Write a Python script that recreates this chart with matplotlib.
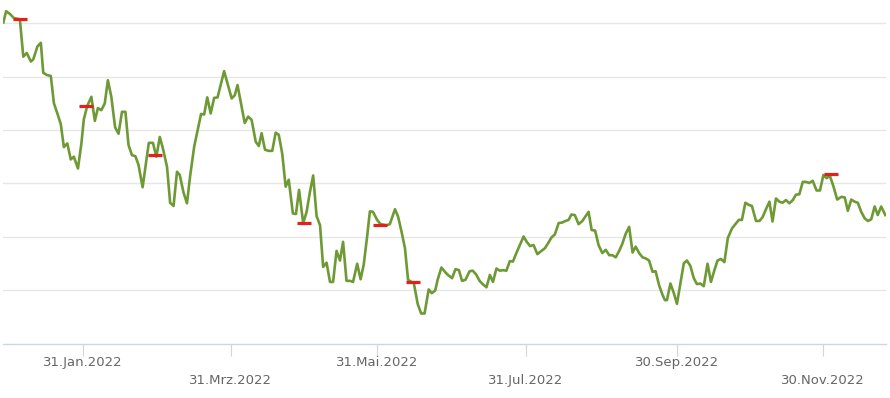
import matplotlib.pyplot as plt

# Handelstage seit Ende Dez. 2021 und Kurs (beliebige Einheit, Gitter alle 10)
tage = [0.1, 0.9, 2.0, 3.2, 4.9, 5.9, 6.9, 8.1, 8.8, 10.0, 11.0, 11.7, 12.7, 13.9,
        14.8, 15.8, 16.8, 17.7, 18.7, 19.7, 20.6, 21.8, 22.8, 23.5, 24.5, 25.7,
        26.7, 27.6, 28.6, 29.6, 30.5, 31.5, 32.6, 33.6, 34.6, 35.6, 36.5, 37.5,
        38.5, 39.4, 40.6, 42.4, 43.6, 44.6, 45.6, 46.6, 47.7, 48.6, 49.6, 50.6,
        51.4, 52.5, 53.5, 54.4, 55.6, 56.6, 57.6, 58.5, 59.4, 60.4, 61.4, 62.4,
        64.3, 65.3, 66.5, 67.4, 68.2, 69.4, 70.3, 71.3, 72.3, 73.5, 74.4, 75.2,
        76.2, 77.3, 78.3, 79.3, 80.2, 81.2, 82.2, 83.1, 84.3, 85.2, 86.1, 87.3,
        88.3, 89.2, 90.2, 91.2, 92.2, 93.1, 94.1, 95.1, 96.0, 97.0, 98.0, 98.9,
        99.9, 100.9, 101.8, 103.0, 104.0, 104.9, 105.9, 106.7, 107.6, 108.8,
        109.8, 111.5, 112.5, 114.0, 114.9, 115.9, 116.9, 117.8, 119.5, 120.6,
        121.6, 122.6, 123.8, 124.7, 125.7, 126.4, 127.5, 128.5, 129.4, 130.6,
        131.6, 132.6, 133.5, 134.5, 135.7, 136.6, 137.6, 138.6, 139.5, 140.6,
        141.6, 142.5, 143.5, 144.5, 145.4, 146.4, 147.4, 148.3, 149.3, 150.3,
        151.4, 152.3, 153.3, 154.3, 155.4, 156.4, 157.6, 158.5, 159.5, 160.5,
        161.6, 162.6, 163.6, 164.5, 165.3, 166.3, 167.4, 168.5, 170.3, 171.2,
        172.2, 173.2, 174.3, 175.3, 176.3, 177.2, 178.2, 179.2, 180.1, 181.1,
        182.1, 183.1, 184.0, 185.0, 186.0, 186.9, 187.9, 188.9, 189.8, 190.8,
        191.8, 192.5, 193.1, 194.1, 195.1, 196.0, 197.0, 198.0, 198.9, 199.9,
        200.9, 201.8, 202.8, 203.8, 204.9, 205.9, 206.9, 207.8, 208.8, 209.8,
        210.8, 212.0, 213.0, 214.0, 214.9, 215.9, 216.9, 217.8, 219.0, 220.0,
        220.9, 221.9, 222.9, 223.8, 224.8, 225.8, 226.7, 227.7, 228.7, 229.7,
        230.6, 231.6, 232.6, 233.5, 234.5, 235.5, 236.6, 237.6, 238.6, 239.5,
        240.5, 241.5, 242.6, 243.8, 244.8, 245.7, 246.7, 247.7, 248.6, 249.6,
        250.6, 251.5, 252.5, 253.5, 254.4, 255.4, 256.6]
kurs = [120.1, 122.2, 121.7, 120.9, 120.7, 113.7, 114.4, 112.8, 113.2, 115.6, 116.3,
        110.7, 110.3, 110.1, 105.0, 103.1, 101.1, 96.8, 97.5, 94.5, 95.0, 92.8,
        97.5, 102.0, 104.5, 106.2, 101.7, 104.1, 103.7, 105.0, 109.3, 106.2,
        100.5, 99.3, 103.4, 103.4, 97.2, 95.3, 95.1, 93.5, 89.3, 97.6, 97.6,
        95.0, 98.7, 96.3, 93.1, 86.4, 85.8, 92.2, 91.6, 88.3, 86.3, 91.3, 96.9,
        100.0, 103.0, 102.9, 106.1, 103.1, 106.0, 106.1, 111.0, 108.7, 105.9,
        106.5, 108.4, 104.4, 101.3, 102.5, 101.9, 97.8, 97.0, 99.4, 96.3, 96.1,
        96.1, 99.5, 99.1, 95.6, 89.4, 90.7, 84.4, 84.3, 88.8, 82.6, 84.7, 88.2,
        91.5, 83.9, 82.2, 74.4, 75.2, 71.6, 71.6, 77.4, 75.6, 79.1, 71.8, 71.8,
        71.6, 75.0, 72.1, 74.8, 80.1, 84.8, 84.7, 83.2, 82.4, 82.2, 82.4, 85.2,
        83.8, 81.0, 77.9, 72.0, 71.3, 67.5, 65.7, 65.7, 70.2, 69.5, 70.0, 72.0,
        74.3, 73.5, 72.9, 72.3, 74.0, 73.8, 71.8, 72.0, 73.6, 73.7, 73.0, 71.8,
        71.2, 70.6, 72.9, 71.6, 74.1, 73.7, 73.8, 73.7, 75.5, 75.4, 77.0, 78.5,
        80.1, 79.1, 78.3, 78.5, 76.8, 77.3, 77.9, 78.8, 79.9, 80.5, 82.6, 82.7,
        83.0, 83.2, 84.2, 84.1, 82.4, 83.0, 84.7, 81.3, 81.2, 78.5, 77.0, 77.6,
        76.6, 76.6, 76.2, 77.4, 78.7, 80.6, 81.9, 77.1, 78.2, 77.0, 76.2, 76.0,
        75.6, 73.5, 73.6, 71.0, 69.2, 68.2, 68.2, 71.3, 69.5, 67.5, 71.3, 75.1,
        75.6, 74.6, 72.3, 71.2, 71.3, 70.8, 75.0, 71.6, 73.8, 75.6, 75.9, 75.3,
        79.8, 81.6, 82.4, 83.2, 83.2, 86.4, 86.0, 85.8, 83.0, 83.0, 83.7, 85.2,
        86.6, 82.9, 87.2, 86.6, 86.4, 86.9, 86.3, 86.9, 87.9, 88.0, 90.3, 90.3,
        90.1, 90.5, 88.7, 88.7, 91.6, 91.0, 91.4, 89.5, 87.0, 87.5, 87.4, 84.9,
        87.0, 86.6, 86.4, 84.7, 83.5, 83.0, 83.3, 85.7, 84.1, 85.7, 84.1]

# rote Marken (Transaktionen)
marken_tage = [4.8, 24.1, 44.3, 87.5, 109.6, 119.1, 240.7]
marken_kurs = [120.7, 104.5, 95.4, 82.7, 82.2, 71.5, 91.7]

# Achsenbeschriftung, abwechselnd in zwei Zeilen
ticks_oben = [23.3, 108.7, 195.9]
labels_oben = ['31.Jan.2022', '31.Mai.2022', '30.Sep.2022']
ticks_unten = [66.3, 152.0, 238.4]
labels_unten = ['31.Mrz.2022', '31.Jul.2022', '30.Nov.2022']

fig = plt.figure(figsize=(8.9, 3.98), dpi=100)
ax = fig.add_axes([0.003, 0.1357, 0.9925, 0.8643])

ax.plot(tage, kurs, color='#6e9a35', linewidth=1.9, solid_joinstyle='round', zorder=3)
ax.plot(marken_tage, marken_kurs, linestyle='none', marker='_', markersize=10.5,
        markeredgewidth=2.3, color='#e3211c', zorder=4)

ax.set_xlim(-0.1, 256.8)
ax.set_ylim(60, 124.3)

ax.set_yticks([70, 80, 90, 100, 110, 120])
ax.yaxis.grid(True, color='#e6e6e6', linewidth=1)
ax.tick_params(axis='y', left=False, labelleft=False)

ax.set_xticks(ticks_oben)
ax.set_xticklabels(labels_oben)
ax.set_xticks(ticks_unten, minor=True)
ax.set_xticklabels(labels_unten, minor=True)
ax.tick_params(axis='x', which='both', length=8.4, width=0.8, color='#ccd6eb',
               labelcolor='#666666', labelsize=9.5)
ax.tick_params(axis='x', which='major', pad=0.3)
ax.tick_params(axis='x', which='minor', pad=13.5)

for s in ['top', 'left', 'right']:
    ax.spines[s].set_visible(False)
ax.spines['bottom'].set_color('#ccd6eb')
ax.spines['bottom'].set_linewidth(1)
ax.set_axisbelow(True)

fig.savefig('out.png', dpi=100)
